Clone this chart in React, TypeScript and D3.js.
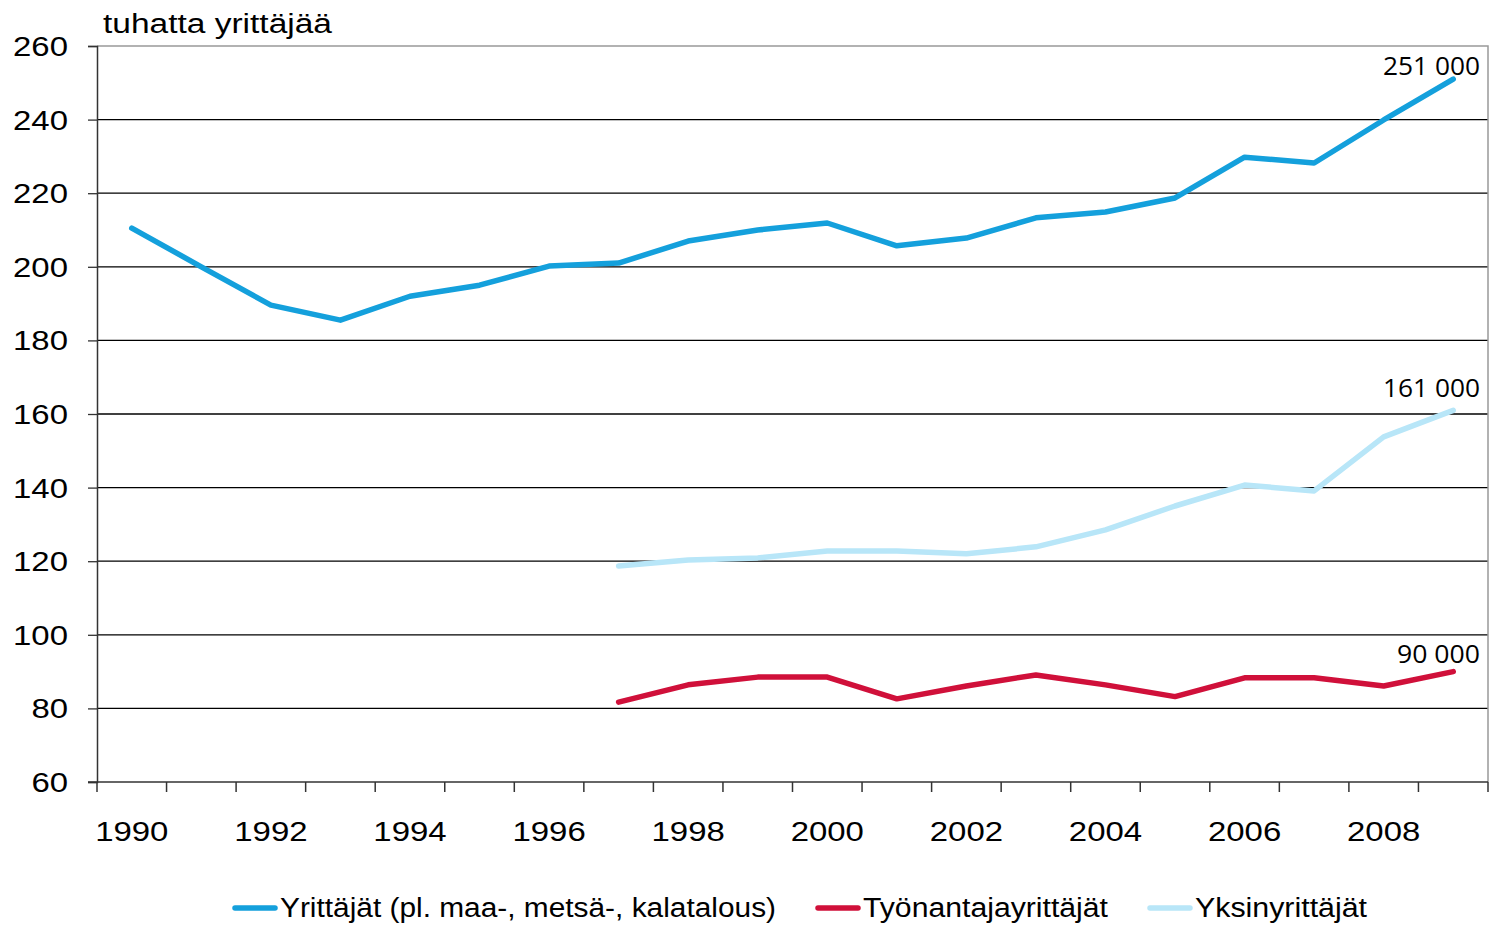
import React, { useEffect, useRef } from "react";
import * as d3 from "d3";

const years = d3.range(1990, 2010).map(String);
const xLabels = ["1990", "1992", "1994", "1996", "1998", "2000", "2002", "2004", "2006", "2008"];
const yTicks = [60, 80, 100, 120, 140, 160, 180, 200, 220, 240, 260];

const yrittajat = [210.5, 200, 189.6, 185.5, 192, 195, 200.2, 201, 207, 210, 211.9, 205.7, 207.8, 213.3, 214.9, 218.7, 229.8, 228.2, 239.9, 251];
const yksin = [null, null, null, null, null, null, null, 118.7, 120.3, 120.9, 122.8, 122.8, 122, 123.9, 128.5, 135, 140.7, 139.1, 153.8, 161];
const tyonantaja = [null, null, null, null, null, null, null, 81.7, 86.4, 88.5, 88.5, 82.6, 86.1, 89.1, 86.4, 83.2, 88.3, 88.3, 86.1, 90];

const seriesNames = ["Yrittäjät (pl. maa-, metsä-, kalatalous)", "Työnantajayrittäjät", "Yksinyrittäjät"];
const endLabels = ["251 000", "90 000", "161 000"];
const colors = ["#14a0dc", "#d0103a", "#b8e6f8"];

const FONT = "Liberation Sans, Arial, sans-serif";
const SX = 1.22; // the original text is drawn a bit wide

function App() {
  const ref = useRef<SVGSVGElement>(null);

  useEffect(() => {
    const svg = d3.select(ref.current);
    svg.selectAll("*").remove();

    const left = 97, right = 1488, top = 46, bottom = 782;

    const x = d3.scaleBand().domain(years).range([left, right]);
    const y = d3.scaleLinear().domain([60, 260]).range([bottom, top]);

    // grid
    svg.append("g")
      .selectAll("line")
      .data(yTicks.filter(d => d !== 60 && d !== 260))
      .join("line")
      .attr("x1", left).attr("x2", right)
      .attr("y1", d => y(d)).attr("y2", d => y(d))
      .attr("stroke", "#000").attr("stroke-width", 1.3);

    // top + right border
    svg.append("path")
      .attr("d", `M${left},${top}H${right}V${bottom}`)
      .attr("fill", "none").attr("stroke", "#999").attr("stroke-width", 1.5);

    // y axis
    const yAxis = d3.axisLeft(y).tickValues(yTicks).tickSize(9).tickPadding(20);
    const gy = svg.append("g").attr("transform", `translate(${left},0)`).call(yAxis);
    gy.select(".domain").attr("stroke", "#333").attr("stroke-width", 1.5);
    gy.selectAll(".tick line").attr("stroke", "#333").attr("stroke-width", 1.3);
    gy.selectAll("text")
      .attr("font-family", FONT).attr("font-size", 27).attr("fill", "#000")
      .attr("dy", "0.35em")
      .attr("x", -29 / SX)
      .attr("transform", `scale(${SX},1)`);

    // x axis
    const xAxis = d3.axisBottom(x).tickValues(xLabels).tickSize(0).tickPadding(40);
    const gx = svg.append("g").attr("transform", `translate(0,${bottom})`).call(xAxis);
    gx.select(".domain").remove();
    gx.selectAll("text")
      .attr("font-family", FONT).attr("font-size", 27).attr("fill", "#000")
      .attr("transform", `scale(${SX},1)`);

    svg.append("line")
      .attr("x1", left - 9).attr("x2", right)
      .attr("y1", bottom).attr("y2", bottom)
      .attr("stroke", "#333").attr("stroke-width", 1.5);
    svg.append("g")
      .selectAll("line")
      .data(years.concat(["end"]))
      .join("line")
      .attr("x1", (d, i) => left + i * x.step())
      .attr("x2", (d, i) => left + i * x.step())
      .attr("y1", bottom).attr("y2", bottom + 10)
      .attr("stroke", "#333").attr("stroke-width", 1.5);

    // title
    svg.append("text")
      .attr("x", 103).attr("y", 33)
      .attr("font-family", FONT).attr("font-size", 27)
      .attr("textLength", 229).attr("lengthAdjust", "spacingAndGlyphs")
      .text("tuhatta yrittäjää");

    const line = d3.line<number | null>()
      .defined(d => d !== null)
      .x((d, i) => (x(years[i]) as number) + x.bandwidth() / 2)
      .y(d => y(d as number));

    const data = [yrittajat, tyonantaja, yksin];
    // draw order: light blue, red, blue
    [2, 1, 0].forEach(k => {
      svg.append("path")
        .attr("d", line(data[k]))
        .attr("fill", "none")
        .attr("stroke", colors[k])
        .attr("stroke-width", 5.5)
        .attr("stroke-linejoin", "round")
        .attr("stroke-linecap", "round");
    });

    // end labels
    const labelDy = [-4, -9, -13];
    data.forEach((s, k) => {
      const last = s[s.length - 1] as number;
      svg.append("text")
        .attr("x", 1480)
        .attr("y", y(last) + labelDy[k])
        .attr("text-anchor", "end")
        .attr("font-family", "Open Sans, sans-serif")
        .attr("font-size", 25)
        .attr("fill", "#000")
        .attr("textLength", k === 1 ? 83 : 97)
        .attr("lengthAdjust", "spacingAndGlyphs")
        .text(endLabels[k]);
    });

    // legend
    const legendX = [235, 818, 1150];
    const legendW = [496, 245, 172];
    const ly = 908;
    seriesNames.forEach((name, k) => {
      svg.append("line")
        .attr("x1", legendX[k]).attr("x2", legendX[k] + 40)
        .attr("y1", ly).attr("y2", ly)
        .attr("stroke", colors[k]).attr("stroke-width", 5.5)
        .attr("stroke-linecap", "round");
      svg.append("text")
        .attr("x", legendX[k] + 45).attr("y", ly)
        .attr("dy", "0.35em")
        .attr("font-family", FONT).attr("font-size", 27)
        .attr("textLength", legendW[k]).attr("lengthAdjust", "spacingAndGlyphs")
        .text(name);
    });
  }, []);

  return (
    <svg ref={ref} width={1500} height={925} style={{ position: "absolute", left: 0, top: 0, background: "#fff" }} />
  );
}

export default App;
